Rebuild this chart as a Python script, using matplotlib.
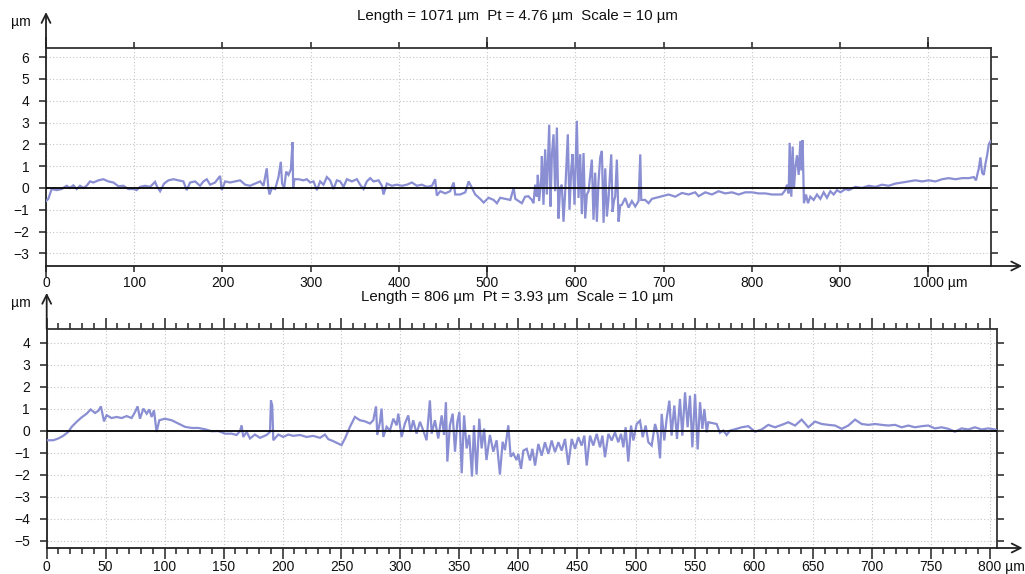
import matplotlib
matplotlib.use("Agg")
import matplotlib.pyplot as plt
from matplotlib.ticker import MultipleLocator, FixedLocator
from matplotlib.transforms import ScaledTranslation

plt.rcParams['font.family'] = ['Liberation Sans', 'DejaVu Sans']

# ---------------- data: profile 1 (length 1071 µm) ----------------
x1 = [0, 2.65, 6.4, 12, 17.8, 23.4, 27.2, 31, 34.8, 38.6, 42.3, 46, 49.9, 53.7, 59.4, 65,
      70.7, 76.4, 82, 87.7, 93.4, 99, 102.8, 106.6, 112.3, 118, 123.6, 126, 129.3, 133.8,
      138.7, 144.4, 150, 155.7, 159.5, 163.3, 169, 174.6, 178.4, 182.2, 186, 191.6, 197.3,
      199.2, 203, 208.6, 214.3, 220, 225.7, 231.3, 237, 242.7, 246.5, 250.2, 252, 253.3,
      256, 259.7, 263.5, 266.1, 267.6, 269.9, 272.2, 274.8, 277.5, 279.4, 280.1, 281.6,
      286.2, 291.8, 295.6, 299.4, 303.2, 307, 310.7, 314.5, 318.3, 322, 325.8, 329.6,
      333.4, 337.2, 341, 346.6, 352.3, 356, 359.9, 363.6, 367.4, 371.2, 376.9, 380.7,
      382.5, 386.3, 392, 397.7, 403.3, 409, 414.7, 420.3, 426, 431.7, 437.4, 441, 443,
      446.8, 452.5, 458, 462, 463.8, 469.5, 475.2, 479, 482.7, 486.5, 492, 496, 501.6,
      507.3, 511, 514.8, 520.5, 526.2, 530, 531.9, 539.3, 543, 546.8, 550.6, 552.5, 554.4,
      556.3, 557.4, 558.9, 561.2, 562, 563.8, 565.7, 567.6, 570.3, 571.8, 573.3, 575.2,
      577, 579, 580.8, 582.7, 584.6, 586.5, 588.4, 591.4, 593.3, 595.2, 596.7, 599, 601.6,
      603.5, 605.4, 607.3, 609.2, 611.1, 613, 614.9, 616.8, 618.6, 620.5, 622.4, 624.3,
      626.2, 628.1, 630, 631.9, 633.8, 635.7, 637.5, 640.6, 642.1, 643.6, 645.1, 647,
      648.9, 650.8, 652.7, 656.4, 660.2, 664, 667.8, 671.6, 673.5, 674.6, 679.1, 682.9,
      686.7, 690.5, 698, 705.6, 713.1, 720.7, 728.3, 735.8, 739.6, 747.2, 754.7, 762.3,
      769.8, 777.4, 785, 792.5, 800, 807.6, 815.2, 822.8, 830.3, 834, 837.9, 839.8, 841.7,
      842.8, 844.7, 846.2, 847.7, 849.2, 851.1, 853, 854.9, 856, 857.5, 859, 861.3, 863.6,
      866.2, 870, 873.8, 877.6, 881.4, 885.1, 888.9, 892.7, 896.5, 900.3, 906, 909.7,
      917.3, 924.8, 932.4, 940, 947.5, 955, 962.6, 970.2, 977.7, 985.3, 992.9, 1000.4,
      1008, 1015.5, 1023.1, 1030.7, 1038.2, 1045.8, 1051.5, 1054, 1057.2, 1059, 1060.9,
      1062.8, 1064.7, 1066.6, 1068.5, 1070.4]
y1 = [-0.6, -0.5, -0.05, -0.1, -0.05, 0.1, 0.0, 0.12, -0.05, 0.1, 0.0, 0.1, 0.3, 0.25, 0.35,
      0.4, 0.3, 0.25, 0.08, 0.1, -0.05, -0.05, -0.1, 0.05, 0.1, 0.05, 0.28, 0.05, -0.15, 0.2,
      0.35, 0.4, 0.35, 0.3, -0.1, 0.25, 0.3, 0.1, 0.3, 0.4, 0.15, 0.25, 0.55, -0.1, 0.3,
      0.25, 0.3, 0.35, 0.15, 0.1, 0.2, 0.3, 0.1, 0.9, 0.0, -0.3, 0.0, -0.05, 0.5, 1.2, 0.2,
      0.0, 0.75, 0.6, 0.85, 2.1, 0.0, 0.4, 0.4, 0.35, 0.4, 0.25, 0.3, -0.1, 0.3, 0.15, 0.5,
      0.35, -0.05, 0.35, 0.3, 0.05, 0.4, 0.3, 0.4, 0.15, -0.05, 0.3, 0.45, 0.3, 0.35, 0.1,
      -0.3, 0.2, 0.1, 0.15, 0.1, 0.15, 0.25, 0.1, 0.15, 0.05, 0.1, 0.4, -0.35, -0.15, -0.25,
      -0.15, 0.25, -0.3, -0.3, -0.2, 0.3, 0.0, -0.3, -0.5, -0.67, -0.45, -0.55, -0.7, -0.45,
      -0.5, -0.55, 0.0, -0.5, -0.7, -0.4, -0.38, -0.55, -0.7, 0.15, -0.4, 0.6, -0.6, 0.4,
      1.46, -0.77, 1.77, -0.3, 2.9, -0.85, 1.5, 2.46, -0.15, 2.77, -1.4, 0.0, 0.15, -1.55,
      -0.2, 2.46, -1.0, 0.8, 1.55, -0.77, 3.08, -0.46, 1.55, -1.2, 1.6, -1.4, -0.3, -0.15,
      0.6, 1.3, -1.46, 0.7, -1.55, 0.3, 1.4, 1.7, -1.6, 0.9, -1.3, -0.5, 1.54, -1.1, -0.6,
      -0.4, 1.3, -1.54, -0.8, -0.77, -0.46, -0.9, -0.6, -0.85, -0.6, 1.54, -0.55, -0.55,
      -0.7, -0.5, -0.46, -0.38, -0.3, -0.4, -0.23, -0.3, -0.2, -0.38, -0.2, -0.3, -0.15,
      -0.25, -0.2, -0.3, -0.2, -0.2, -0.25, -0.25, -0.3, -0.3, -0.3, -0.1, 0.15, -0.25,
      2.07, -0.4, 1.9, 0.0, 0.9, 1.5, 0.6, 2.15, 0.8, 2.2, -0.7, -0.3, -0.7, -0.4, -0.55,
      -0.3, -0.5, -0.2, -0.45, -0.15, -0.3, -0.1, -0.2, -0.05, -0.1, 0.05, 0.0, 0.1, 0.05,
      0.15, 0.1, 0.2, 0.25, 0.3, 0.35, 0.3, 0.35, 0.3, 0.4, 0.45, 0.4, 0.45, 0.45, 0.5,
      0.35, 0.9, 1.4, 0.7, 0.6, 1.1, 1.5, 2.0, 2.15]

# ---------------- data: profile 2 (length 806 µm) ----------------
x2 = [0, 5.6, 9.8, 14, 18.3, 21.2, 25.4, 29.6, 33.9, 37.3, 41, 43.8, 46, 48.6, 50.8, 55,
      59.3, 63.6, 67.8, 72, 74.9, 77.1, 79.1, 82, 84.8, 87, 89, 91, 93.2, 95.5, 100.3, 106,
      111.6, 117.3, 123, 128.6, 134.2, 139.9, 145.5, 151.2, 156.9, 161, 164, 165.3, 166.7,
      169.6, 172.4, 176.6, 180.9, 186.5, 189.4, 190.2, 191.3, 192.2, 196.4, 200.7, 204.9,
      209, 214.8, 220.5, 226, 231.8, 236, 238.8, 243, 247.3, 250, 253, 257.2, 261.4, 265.7,
      269.9, 274.2, 277, 279.3, 280.4, 282.7, 284, 285.5, 288.3, 291.1, 294, 296.8, 298.2,
      301, 303.8, 306.7, 308.6, 310.9, 313.7, 316.6, 319.4, 322.2, 325, 326.5, 329.3, 332.1,
      335, 337, 338.6, 339.8, 342, 344.3, 346.3, 348.3, 350, 352, 354, 356.2, 358.4, 360.7,
      362.4, 364.6, 366.9, 368.9, 371, 373, 375.9, 378.8, 381.6, 384.4, 386.7, 388.7, 391.5,
      393.5, 395.7, 398.5, 400, 402.3, 404.3, 407.1, 409.9, 411.9, 414.2, 417, 419.8, 422.6,
      425.5, 428.3, 431.1, 434, 436.8, 439.6, 442.4, 445.3, 448.1, 450.9, 453.7, 456, 458,
      460.8, 463.6, 466.5, 469.3, 471.3, 473.5, 476.4, 479.2, 482, 484.8, 487.1, 489.1, 491,
      493.3, 495.6, 497.6, 500.4, 503.2, 505.5, 508, 510.3, 513.1, 516, 518.2, 520.2, 521.6,
      523.8, 525.8, 528.1, 530, 532.3, 534.6, 537.1, 539.1, 541.4, 543.6, 545.6, 547.6,
      549.9, 552.1, 554.1, 556.1, 557.8, 559.8, 561.2, 564, 568.2, 571, 573.9, 576.7, 579.5,
      585.2, 589.4, 595.1, 600.7, 606.4, 612, 617.7, 623.4, 629, 634.7, 640.3, 646, 651.6,
      657.3, 663, 668.6, 674.3, 679.9, 685.6, 691.2, 696.9, 702.5, 708.2, 713.8, 719.5,
      725.1, 730.8, 736.4, 742.1, 747.7, 753.4, 759, 764.7, 770.3, 776, 781.7, 787.3, 793,
      798.6, 804.3, 806]
y2 = [-0.44, -0.44, -0.36, -0.24, -0.06, 0.17, 0.4, 0.6, 0.77, 0.96, 0.8, 0.9, 1.1, 0.42,
      0.7, 0.57, 0.62, 0.57, 0.66, 0.57, 0.84, 1.1, 0.54, 1.0, 0.77, 0.96, 0.62, 0.92, -0.06,
      0.47, 0.54, 0.47, 0.32, 0.17, 0.12, 0.12, 0.06, -0.03, -0.02, -0.14, -0.14, -0.2, -0.03,
      0.24, -0.29, -0.06, -0.36, -0.18, -0.33, -0.2, -0.06, 1.37, 1.14, -0.44, -0.18, -0.29,
      -0.18, -0.24, -0.2, -0.29, -0.24, -0.33, -0.18, -0.39, -0.48, -0.59, -0.66, -0.36,
      0.17, 0.62, 0.47, 0.42, 0.32, 0.47, 1.1, -0.2, 0.4, 1.0, -0.29, 0.17, 0.0, 0.54, 0.24,
      0.77, -0.29, 0.32, 0.69, -0.06, 0.47, -0.14, 0.4, 0.0, -0.44, 1.37, -0.14, 0.47, -0.36,
      0.69, -0.2, 1.29, -1.41, 0.24, 0.77, -0.96, 0.4, 0.84, -1.94, 0.69, -0.81, -0.2, -2.09,
      0.24, -2.0, 0.54, -0.81, 0.09, -1.34, -0.2, -0.96, -0.44, -2.0, -0.51, -0.89, 0.24,
      -1.19, -1.04, -1.34, -1.06, -1.74, -0.91, -0.83, -1.36, -0.83, -1.59, -0.61, -1.14,
      -0.53, -1.06, -0.45, -0.98, -0.53, -0.91, -0.38, -1.56, -0.38, -0.83, -0.3, -0.68,
      -0.23, -1.59, -0.23, -0.68, -0.15, -0.76, -0.23, -1.21, -0.15, -0.45, -0.08, -0.53,
      -0.15, -0.76, 0.15, -1.41, 0.23, -0.45, 0.3, 0.45, -0.3, 0.23, -0.53, -0.68, 0.3,
      -0.15, -1.26, 0.76, -0.45, 0.53, 1.36, -0.23, 1.14, -0.38, 1.44, -0.23, 1.74, 0.15,
      1.59, -0.76, 1.67, -0.86, 1.29, 0.08, 0.98, -0.08, 0.38, 0.35, 0.3, -0.1, 0.0, -0.2,
      0.0, 0.08, 0.15, 0.2, -0.05, 0.05, 0.26, 0.15, 0.26, 0.38, 0.23, 0.5, 0.15, 0.41, 0.3,
      0.26, 0.23, 0.08, 0.23, 0.5, 0.3, 0.26, 0.3, 0.26, 0.23, 0.26, 0.15, 0.23, 0.15, 0.2,
      0.23, 0.1, 0.15, 0.08, -0.05, 0.1, 0.05, 0.15, 0.05, 0.1, 0.05, 0.0]

titles = ["Length = 1071 µm  Pt = 4.76 µm  Scale = 10 µm",
          "Length = 806 µm  Pt = 3.93 µm  Scale = 10 µm"]
lengths = [1071, 806]
y_ticks1 = list(range(-3, 7))
y_ticks2 = list(range(-5, 5))

LINE = '#8a8ed2'
AX = '#222222'
GRID = '#c4c4c4'
FS = 10
TFS = 10.8

fig = plt.figure(figsize=(10.25, 5.74), dpi=100)

W, H = 1025, 574
rects = [(46, 48, 991, 266), (46.7, 329, 997, 548)]
ylims = [(-3.58, 6.42), (-5.34, 4.62)]
majors = [100, 50]
minors = [None, 10]
big = [[0, 500, 1000], None]
yt = [y_ticks1, y_ticks2]
data = [(x1, y1), (x2, y2)]
title_y = [16, 297]
arrow_x = [1.033, 1.027]
xpads = [3.5, 0.6]

for i in range(2):
    l, t, r, b = rects[i]
    ax = fig.add_axes([l / W, 1 - b / H, (r - l) / W, (b - t) / H])
    xs, ys = data[i]
    ax.plot(xs, ys, color=LINE, lw=1.6, zorder=3, solid_joinstyle='miter')
    ax.axhline(0, color='black', lw=1.3, zorder=4)
    ax.set_xlim(0, lengths[i])
    ax.set_ylim(*ylims[i])

    ax.xaxis.set_major_locator(MultipleLocator(majors[i]))
    if minors[i]:
        ax.xaxis.set_minor_locator(MultipleLocator(minors[i]))
        ax.tick_params(axis='x', which='major', length=8, width=1.1)
        ax.tick_params(axis='x', which='minor', length=4.5, width=1.1)
    else:
        ax.xaxis.remove_overlapping_locs = False
        ax.xaxis.set_minor_locator(FixedLocator(big[i]))
        ax.tick_params(axis='x', which='major', length=4, width=1.1)
        ax.tick_params(axis='x', which='minor', length=8, width=1.1)
    ax.set_yticks(yt[i])
    ax.tick_params(axis='y', which='major', length=5, width=1.1)
    ax.tick_params(which='both', direction='out', top=True, right=True,
                   colors=AX, labelcolor='#111111', labelsize=FS)
    ax.tick_params(axis='x', pad=xpads[i])
    ax.tick_params(axis='y', pad=7)

    ticks = [v for v in ax.get_xticks() if 0 <= v <= lengths[i]]
    labels = [str(int(v)) for v in ticks]
    labels[-1] = labels[-1] + ' µm'
    ax.set_xticks(ticks)
    ax.set_xticklabels(labels)
    ax.set_xlim(0, lengths[i])
    # keep the number centred on its tick, unit trailing to the right
    lab = ax.get_xticklabels()[-1]
    lab.set_transform(lab.get_transform() + ScaledTranslation(8.6 / 72, 0, fig.dpi_scale_trans))

    ax.grid(True, which='major', color=GRID, lw=0.8, linestyle=(0, (1, 2)))
    for s in ax.spines.values():
        s.set_color('#333333')
        s.set_linewidth(1.3)
    ax.spines['left'].set_color(AX)
    ax.spines['bottom'].set_color(AX)

    ax.annotate('', xy=(0, 1.165), xytext=(0, 1), xycoords='axes fraction',
                arrowprops=dict(arrowstyle='->', lw=1.3, color=AX, shrinkA=0, shrinkB=0,
                                mutation_scale=16), annotation_clip=False)
    ax.annotate('', xy=(arrow_x[i], 0), xytext=(1, 0), xycoords='axes fraction',
                arrowprops=dict(arrowstyle='->', lw=1.3, color=AX, shrinkA=0, shrinkB=0,
                                mutation_scale=16), annotation_clip=False)

    fig.text(21 / W, 1 - (title_y[i] + 6) / H, 'µm', ha='center', va='center',
             fontsize=FS, color='#111111')
    fig.text(517 / W, 1 - title_y[i] / H, titles[i], ha='center', va='center',
             fontsize=TFS, color='#111111')

fig.savefig('out.png', dpi=100)
